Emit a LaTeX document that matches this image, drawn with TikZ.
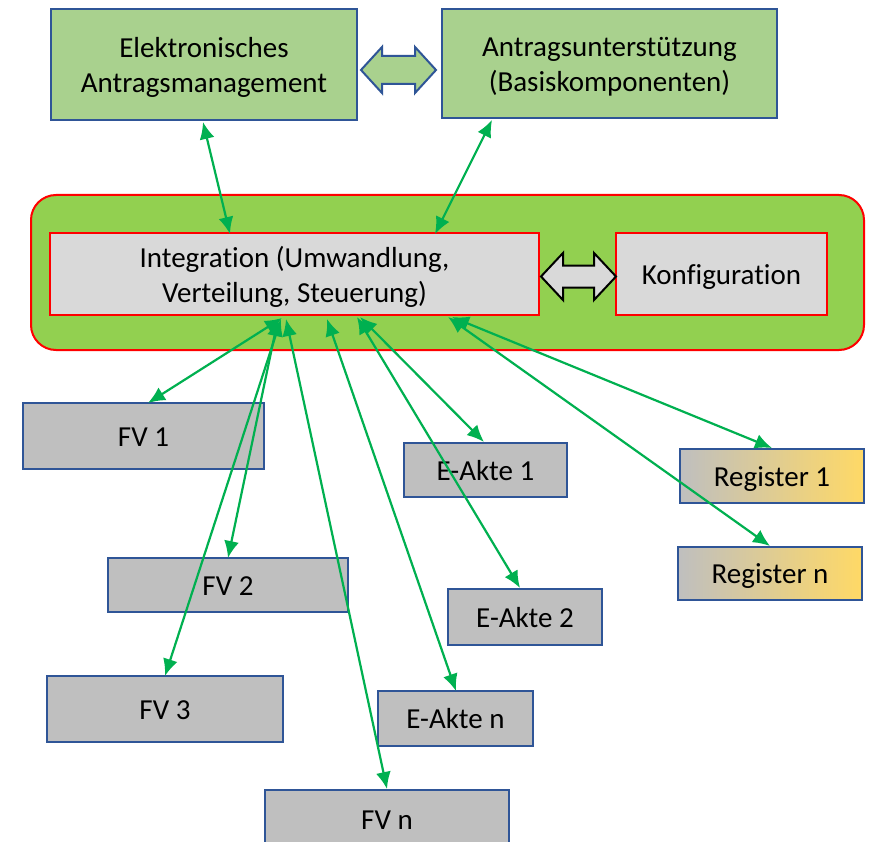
\documentclass[tikz,border=0pt]{standalone}
\usepackage{fontspec}
\setmainfont[Ligatures={NoCommon}]{Carlito}
\usetikzlibrary{arrows.meta,calc}
\definecolor{topgreen}{HTML}{A9D18E}
\definecolor{contgreen}{HTML}{92D050}
\definecolor{lightgray2}{HTML}{D9D9D9}
\definecolor{boxgray}{HTML}{BFBFBF}
\definecolor{boxblue}{HTML}{2F5597}
\definecolor{arrowgreen}{HTML}{00B050}
\definecolor{regyellow}{HTML}{FFD966}
\begin{document}
\begin{tikzpicture}[x=1pt,y=-1pt,
  every node/.style={font=\fontsize{29}{35}\selectfont, align=center, inner sep=0pt, outer sep=0pt},
  oneline/.style={text height=22pt, text depth=2pt},
  twoline/.style={text height=57pt, text depth=1pt},
  topbox/.style={draw=boxblue, line width=2pt, fill=topgreen, twoline},
  redbox/.style={draw=red, line width=2.2pt, fill=lightgray2},
  graybox/.style={draw=boxblue, line width=2pt, fill=boxgray, oneline},
  regbox/.style={draw=boxblue, line width=2pt, left color=boxgray, right color=regyellow, oneline},
  garrow/.style={draw=arrowgreen, line width=2.2pt, {Latex[length=17pt,width=15pt]}-{Latex[length=17pt,width=15pt]}},
  dblarrow/.style={line width=2pt, line join=miter}
]
\useasboundingbox (0,0) rectangle (872,842);
\fill[white] (0,0) rectangle (872,842);

% top boxes
\node[topbox, minimum width=306pt, minimum height=111pt] (ea) at (204,64.5) {Elektronisches\\Antragsmanagement};
\node[topbox, minimum width=335pt, minimum height=109pt] (au) at (609.5,63.5) {Antragsunterstützung\\(Basiskomponenten)};

% blue double arrow
\draw[dblarrow, draw=boxblue, fill=topgreen]
  (361,70) -- (382,47) -- (382,56) -- (415,56) -- (415,47) -- (436,70)
  -- (415,93) -- (415,84) -- (382,84) -- (382,93) -- cycle;

% container
\node[draw=red, line width=2pt, fill=contgreen, rounded corners=25pt, minimum width=833pt, minimum height=155pt] (cont) at (447.5,272.5) {};
\node[redbox, twoline, minimum width=489pt, minimum height=82pt] (int) at (294.5,274) {Integration (Umwandlung,\\Verteilung, Steuerung)};
\node[redbox, oneline, minimum width=211pt, minimum height=82pt] (konf) at (721.5,274) {Konfiguration};

% white double arrow
\draw[dblarrow, draw=black, fill=lightgray2]
  (541,276.5) -- (563,253) -- (563,265.5) -- (594,265.5) -- (594,253) -- (616,276.5)
  -- (594,300) -- (594,287.5) -- (563,287.5) -- (563,300) -- cycle;

% lower boxes
\node[graybox, minimum width=241pt, minimum height=66pt] (fv1) at (143.5,436) {FV 1};
\node[graybox, minimum width=163pt, minimum height=54pt] (ea1) at (485.5,470) {E-Akte 1};
\node[regbox, minimum width=184pt, minimum height=54pt] (reg1) at (772,476) {Register 1};
\node[graybox, minimum width=240pt, minimum height=54pt] (fv2) at (228,585) {FV 2};
\node[regbox, minimum width=184pt, minimum height=53pt] (regn) at (770,573.5) {Register n};
\node[graybox, minimum width=154pt, minimum height=56pt] (ea2) at (525,617) {E-Akte 2};
\node[graybox, minimum width=236pt, minimum height=66pt] (fv3) at (165,709) {FV 3};
\node[graybox, minimum width=155pt, minimum height=55pt] (ean) at (455.5,718.5) {E-Akte n};
\node[graybox, minimum width=244pt, minimum height=58pt] (fvn) at (387,819) {FV n};

% arrows
\draw[garrow] ($(ea.south)+(-1,2)$) -- ($(int.north west)+(180,1)$);
\draw[garrow] ($(au.south west)+(50,2)$) -- ($(int.north west)+(385,1)$);
\draw[garrow] ($(int.south west)+(232,3)$) -- ($(fv1.north west)+(125,0)$);
\draw[garrow] ($(int.south west)+(228,4)$) -- ($(fv2.north west)+(120,0)$);
\draw[garrow] ($(int.south west)+(231,4)$) -- ($(fv3.north west)+(118,0)$);
\draw[garrow] ($(int.south west)+(236,4)$) -- ($(fvn.north west)+(122,-1)$);
\draw[garrow] ($(int.south west)+(277,4)$) -- ($(ean.north west)+(78,0)$);
\draw[garrow] ($(int.south west)+(307,2)$) -- ($(ea2.north west)+(72,-1)$);
\draw[garrow] ($(int.south west)+(310,2)$) -- ($(ea1.north west)+(80,-1)$);
\draw[garrow] ($(int.south west)+(398,2)$) -- ($(regn.north west)+(92,-1)$);
\draw[garrow] ($(int.south west)+(402,2)$) -- ($(reg1.north west)+(92,-1)$);
\end{tikzpicture}
\end{document}
